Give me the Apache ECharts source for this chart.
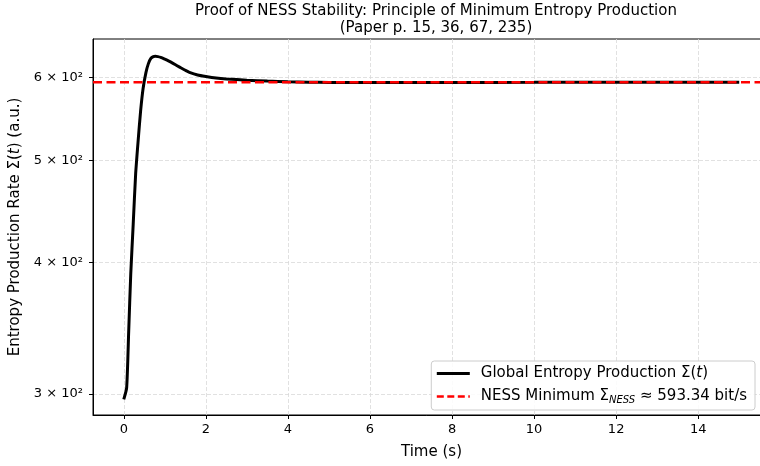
<!DOCTYPE html>
<html>
<head>
<meta charset="utf-8">
<script src="https://cdn.jsdelivr.net/npm/echarts@6/dist/echarts.min.js"></script>
<style>
  html, body { margin: 0; padding: 0; background: #fff; }
  #chart { width: 760px; height: 466px; }
</style>
</head>
<body>
<div id="chart"></div>
<script>
// 时间 (s) 与熵产生率
const times = [0, 0.07, 0.12, 0.17, 0.23, 0.29, 0.35, 0.41, 0.47, 0.54, 0.60, 0.66, 0.72, 0.77, 0.83, 0.9, 1.0, 1.1, 1.2, 1.3, 1.4, 1.5, 1.6, 1.8, 2.0, 2.25, 2.5, 3.0, 3.5, 4.0, 4.5, 5, 6, 7, 8, 10, 12, 15];
const entropy = [296.5, 304, 344, 390, 435, 486, 522, 557, 585, 606, 618, 625, 627.5, 628, 627.5, 626.5, 624, 621.3, 618.3, 615.2, 612.1, 609.1, 606.4, 602.8, 600.8, 598.8, 597.6, 596, 594.8, 594, 593.4, 593, 592.9, 593, 593.1, 593.2, 593.3, 593.3];
const nessValue = 593.34;
const xTicks = [0, 2, 4, 6, 8, 10, 12, 14];
const yTicks = [300, 400, 500, 600];
const xRange = [-0.75, 15.75];
const yRange = [286.5, 652.2];

const FONT = 'DejaVu Sans';
const chart = echarts.init(document.getElementById('chart'));

const mainData = times.map((t, i) => [t, Math.log10(entropy[i])]);
const nessData = xRange.map(t => [t, Math.log10(nessValue)]);

const legendRich = {
  'Global Entropy Production Σ(t)': 'Global Entropy Production Σ({i|t})',
  'NESS Minimum': 'NESS Minimum Σ{sub|NESS} ≈ 593.34 bit/s'
};

chart.setOption({
  animation: false,
  title: {
    text: 'Proof of NESS Stability: Principle of Minimum Entropy Production\n(Paper p. 15, 36, 67, 235)',
    left: 431,
    top: -2,
    textAlign: 'center',
    textStyle: { fontFamily: FONT, fontSize: 15, fontWeight: 'normal', color: '#000', lineHeight: 17 }
  },
  grid: {
    left: 93, top: 39, bottom: 51, right: -10,
    show: true, borderColor: '#000', borderWidth: 1,
    outerBoundsMode: 'none'
  },
  legend: {
    orient: 'vertical',
    right: 5,
    bottom: 56,
    itemWidth: 33,
    itemHeight: 12,
    itemGap: 8,
    padding: [5, 8, 5, 4],
    backgroundColor: 'rgba(255,255,255,0.85)',
    borderColor: '#ccc',
    borderWidth: 1,
    borderRadius: 3,
    itemStyle: { opacity: 0 },
    formatter: name => legendRich[name],
    textStyle: {
      fontFamily: FONT, fontSize: 15, color: '#000', padding: [0, 0, 0, 6],
      rich: {
        i: { fontFamily: FONT, fontSize: 15, fontStyle: 'italic', color: '#000' },
        sub: { fontFamily: FONT, fontSize: 10, fontStyle: 'italic', color: '#000', padding: [7, 0, 0, 0] }
      }
    },
    data: [
      { name: 'Global Entropy Production Σ(t)', lineStyle: { width: 3, color: '#000' } },
      { name: 'NESS Minimum', lineStyle: { width: 2.5, color: '#ff0000', type: [7, 3.5] } }
    ]
  },
  xAxis: {
    type: 'value',
    min: xRange[0],
    max: xRange[1],
    name: 'Time (s)',
    nameLocation: 'middle',
    nameGap: 30,
    nameTextStyle: { fontFamily: FONT, fontSize: 15, color: '#000' },
    axisLine: { show: true, onZero: false, lineStyle: { color: '#000', width: 1 } },
    axisTick: { show: true, length: 4, customValues: xTicks, lineStyle: { color: '#000' } },
    axisLabel: { customValues: xTicks, margin: 8, fontFamily: FONT, fontSize: 13, color: '#000' },
    splitLine: { show: true, lineStyle: { color: '#d9d9d9', type: [4, 2], width: 0.8 } }
  },
  yAxis: {
    type: 'value',
    min: Math.log10(yRange[0]),
    max: Math.log10(yRange[1]),
    name: 'Entropy Production Rate Σ({i|t}) (a.u.)',
    nameLocation: 'middle',
    nameGap: 63,
    nameTextStyle: {
      fontFamily: FONT, fontSize: 15, color: '#000',
      rich: { i: { fontFamily: FONT, fontSize: 15, fontStyle: 'italic', color: '#000' } }
    },
    axisLine: { show: true, onZero: false, lineStyle: { color: '#000', width: 1 } },
    axisTick: { show: true, length: 4, customValues: yTicks.map(Math.log10), lineStyle: { color: '#000' } },
    axisLabel: {
      customValues: yTicks.map(Math.log10),
      margin: 10,
      fontFamily: FONT, fontSize: 13, color: '#000',
      formatter: v => Math.round(Math.pow(10, v) / 100) + ' × 10²'
    },
    splitLine: { show: true, lineStyle: { color: '#d9d9d9', type: [4, 2], width: 0.8 } }
  },
  series: [
    {
      name: 'Global Entropy Production Σ(t)',
      type: 'line',
      data: mainData,
      symbol: 'none',
      smooth: 0.2,
      lineStyle: { color: '#000', width: 3 },
      itemStyle: { color: '#000' }
    },
    {
      name: 'NESS Minimum',
      type: 'line',
      data: nessData,
      symbol: 'none',
      lineStyle: { color: '#ff0000', width: 2.5, type: [9, 4.5] },
      itemStyle: { color: '#ff0000' }
    }
  ]
});
</script>
</body>
</html>
